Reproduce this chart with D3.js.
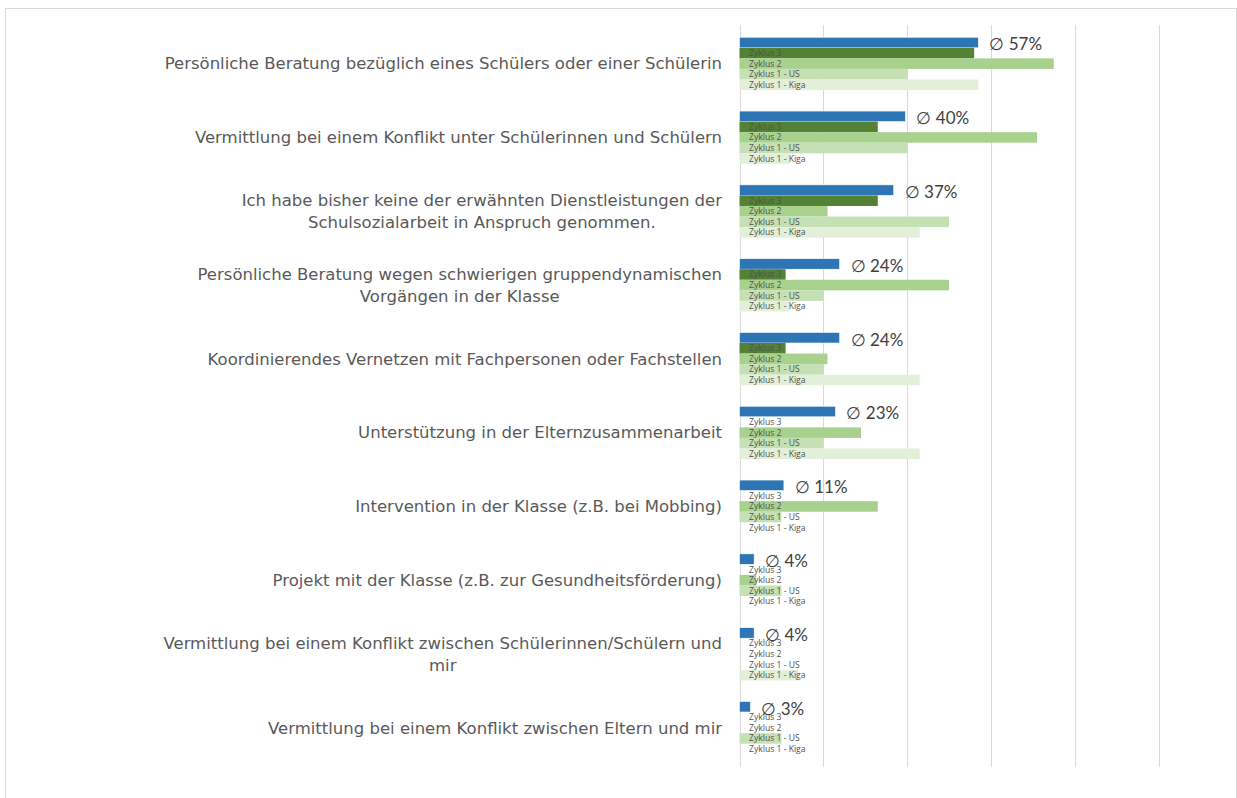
<!DOCTYPE html>
<html>
<head>
<meta charset="utf-8">
<script src="https://cdn.jsdelivr.net/npm/d3@7"></script>
<style>
  body { margin: 0; background: #fff; }
  svg { display: block; }
</style>
</head>
<body>
<figure id="chart" style="margin:0"></figure>
<script>
// categories, top to bottom
var categories = [
  "Persönliche Beratung bezüglich eines Schülers oder einer Schülerin",
  "Vermittlung bei einem Konflikt unter Schülerinnen und Schülern",
  "Ich habe bisher keine der erwähnten Dienstleistungen der|Schulsozialarbeit in Anspruch genommen.",
  "Persönliche Beratung wegen schwierigen gruppendynamischen|Vorgängen in der Klasse",
  "Koordinierendes Vernetzen mit Fachpersonen oder Fachstellen",
  "Unterstützung in der Elternzusammenarbeit",
  "Intervention in der Klasse (z.B. bei Mobbing)",
  "Projekt mit der Klasse (z.B. zur Gesundheitsförderung)",
  "Vermittlung bei einem Konflikt zwischen Schülerinnen/Schülern und|mir",
  "Vermittlung bei einem Konflikt zwischen Eltern und mir"
];

var seriesNames = ["Durchschnitt", "Zyklus 3", "Zyklus 2", "Zyklus 1 - US", "Zyklus 1 - Kiga"];

// percent values
var durchschnitt = [57, 39.6, 36.8, 23.9, 23.9, 22.9, 10.6, 3.5, 3.5, 2.6];
var zyklus3      = [56, 33, 33, 11, 11, 0, 0, 0, 0, 0];
var zyklus2      = [75, 71, 21, 50, 21, 29, 33, 4, 0, 0];
var zyklus1US    = [40, 40, 50, 20, 20, 20, 10, 10, 0, 10];
var zyklus1Kiga  = [57, 12, 43, 12, 43, 43, 0, 0, 14, 0];

var xTicks = [0, 20, 40, 60, 80, 100];

var colors = ["#2e75b6", "#548235", "#a9d18e", "#c5e0b4", "#e2f0d9"];

var W = 1237, H = 798;

var svg = d3.select('figure#chart').append('svg')
  .attr('width', W)
  .attr('height', H);

// outer frame
svg.append('rect')
  .attr('x', 5.5).attr('y', 8.5)
  .attr('width', 1231).attr('height', 800)
  .attr('fill', '#fff')
  .attr('stroke', '#d9d9d9')
  .attr('stroke-width', 1);

var x = d3.scaleLinear()
  .domain([0, 100])
  .range([739.5, 1158.5]);

var y = d3.scaleBand()
  .domain(categories)
  .range([26.75, 764.75]);

var ySub = d3.scaleBand()
  .domain(seriesNames)
  .range([10.5, 63.3]);

// gridlines
svg.append('g').classed('grid', true)
  .selectAll('line')
  .data(xTicks)
  .enter().append('line')
    .attr('x1', function(d) { return Math.round(x(d)) + 0.5; })
    .attr('x2', function(d) { return Math.round(x(d)) + 0.5; })
    .attr('y1', 25)
    .attr('y2', 767)
    .attr('stroke', '#d9d9d9')
    .attr('stroke-width', 1);

var rows = categories.map(function(c, i) {
  return {
    cat: c,
    values: [durchschnitt[i], zyklus3[i], zyklus2[i], zyklus1US[i], zyklus1Kiga[i]]
  };
});

var groups = svg.append('g').classed('data-series', true)
  .selectAll('.group')
  .data(rows)
  .enter().append('g')
    .classed('group', true)
    .attr('transform', function(d) { return 'translate(0,' + y(d.cat) + ')'; });

groups.selectAll('.bar')
  .data(function(d) {
    return d.values.map(function(v, j) { return {key: seriesNames[j], value: v, idx: j}; });
  })
  .enter().append('rect')
    .classed('bar', true)
    .attr('x', x(0))
    .attr('y', function(d) { return ySub(d.key); })
    .attr('width', function(d) { return x(d.value) - x(0); })
    .attr('height', ySub.bandwidth())
    .attr('fill', function(d) { return colors[d.idx]; })
    .attr('stroke', function(d) { return d.idx === 0 ? '#ffffff' : 'none'; })
    .attr('stroke-width', 0.6);

// small series labels inside the bars
groups.selectAll('.series-label')
  .data(function(d) { return seriesNames.slice(1); })
  .enter().append('text')
    .classed('series-label', true)
    .attr('x', 749)
    .attr('y', function(d) { return ySub(d) + ySub.bandwidth() / 2; })
    .attr('dy', '0.35em')
    .style('font-family', '"Open Sans", "DejaVu Sans", sans-serif')
    .style('font-size', '8.6px')
    .style('fill', '#505050')
    .text(function(d) { return d; });

// average labels
groups.append('text')
  .classed('avg-label', true)
  .attr('x', function(d) { return x(d.values[0]) + 11; })
  .attr('y', function(d) { return ySub(seriesNames[0]) + ySub.bandwidth() / 2 + 2; })
  .attr('dy', '0.35em')
  .style('font-family', 'Lato, "Liberation Sans", sans-serif')
  .style('font-size', '17px')
  .style('fill', '#404040')
  .text(function(d) { return '\u2205 ' + d3.format('.0f')(d.values[0]) + '%'; });

// category labels, block right aligned, lines centred
var labelRight = 722;
var catLabels = svg.append('g').classed('y axis', true)
  .selectAll('.cat-label')
  .data(categories)
  .enter().append('g')
    .classed('cat-label', true);

catLabels.each(function(c) {
  var g = d3.select(this);
  var lines = c.split('|');
  var cy = y(c) + y.bandwidth() / 2;
  var lh = 22;
  var texts = lines.map(function(l, k) {
    return g.append('text')
      .attr('y', cy + (k - (lines.length - 1) / 2) * lh)
      .attr('dy', '0.35em')
      .attr('text-anchor', 'middle')
      .style('font-family', '"DejaVu Sans", sans-serif')
      .style('font-size', '16.5px')
      .style('fill', '#595959')
      .text(l);
  });
  var maxW = d3.max(texts, function(t) { return t.node().getComputedTextLength(); });
  texts.forEach(function(t) { t.attr('x', labelRight - maxW / 2); });
});
</script>
</body>
</html>
